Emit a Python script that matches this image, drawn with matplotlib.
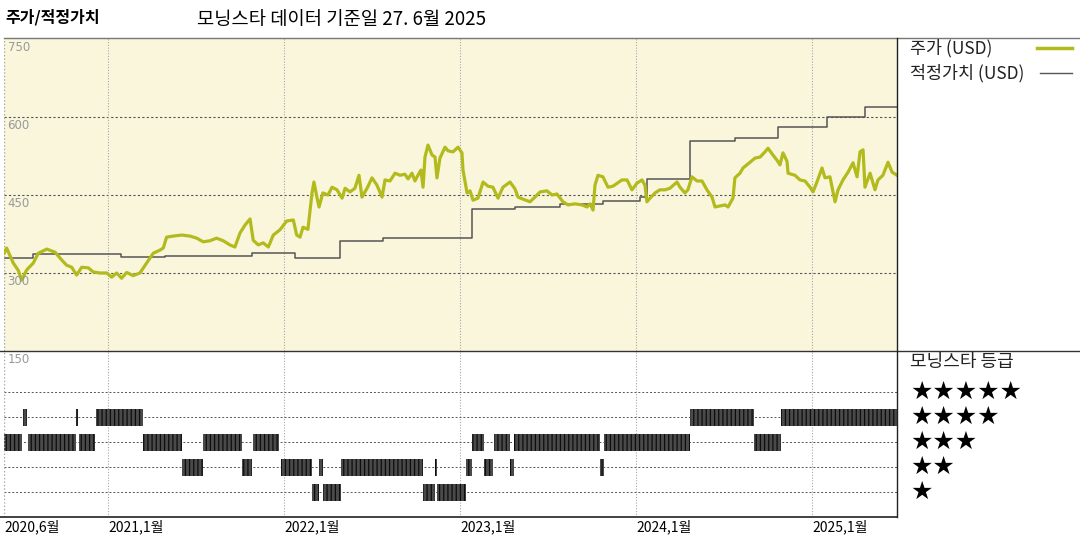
import matplotlib
matplotlib.use("Agg")
import matplotlib.pyplot as plt
from matplotlib.lines import Line2D

plt.rcParams["font.family"] = ["Noto Sans CJK KR", "DejaVu Sans"]
plt.rcParams["hatch.linewidth"] = 0.9

PRICE_COLOR = "#b3ba1c"
FAIR_COLOR = "#555555"
BG_COLOR = "#f9f6dc"
GRID_DARK = "#555555"
GRID_LIGHT = "#a8a8a8"

# dates as decimal years
price_t = [
    2020.41, 2020.424, 2020.462, 2020.490, 2020.510, 2020.538, 2020.575, 2020.604,
    2020.652, 2020.699, 2020.737, 2020.765, 2020.794, 2020.822, 2020.850, 2020.888,
    2020.916, 2020.955, 2020.993, 2021.021, 2021.049, 2021.077, 2021.106, 2021.143,
    2021.181, 2021.219, 2021.257, 2021.295, 2021.314, 2021.333, 2021.370, 2021.418,
    2021.466, 2021.504, 2021.541, 2021.579, 2021.617, 2021.655, 2021.693, 2021.721,
    2021.750, 2021.778, 2021.807, 2021.825, 2021.854, 2021.882, 2021.911, 2021.939,
    2021.977, 2022.015, 2022.053, 2022.072, 2022.091, 2022.108, 2022.136, 2022.159,
    2022.170, 2022.187, 2022.199, 2022.221, 2022.250, 2022.273, 2022.301, 2022.330,
    2022.347, 2022.375, 2022.403, 2022.426, 2022.443, 2022.472, 2022.500, 2022.528,
    2022.557, 2022.574, 2022.602, 2022.631, 2022.659, 2022.687, 2022.705, 2022.727,
    2022.744, 2022.761, 2022.778, 2022.790, 2022.801, 2022.818, 2022.841, 2022.858,
    2022.869, 2022.886, 2022.915, 2022.932, 2022.960, 2022.989, 2023.011, 2023.017,
    2023.040, 2023.057, 2023.074, 2023.102, 2023.131, 2023.159, 2023.187, 2023.216,
    2023.244, 2023.284, 2023.312, 2023.330, 2023.358, 2023.398, 2023.426, 2023.455,
    2023.494, 2023.523, 2023.551, 2023.585, 2023.614, 2023.653, 2023.693, 2023.722,
    2023.739, 2023.756, 2023.767, 2023.784, 2023.812, 2023.841, 2023.869, 2023.920,
    2023.949, 2023.977, 2024.006, 2024.034, 2024.051, 2024.062, 2024.080, 2024.108,
    2024.136, 2024.165, 2024.193, 2024.233, 2024.250, 2024.278, 2024.295, 2024.318,
    2024.347, 2024.375, 2024.403, 2024.432, 2024.449, 2024.477, 2024.506, 2024.523,
    2024.551, 2024.562, 2024.591, 2024.608, 2024.648, 2024.676, 2024.705, 2024.733,
    2024.750, 2024.778, 2024.801, 2024.818, 2024.835, 2024.858, 2024.864, 2024.903,
    2024.932, 2024.960, 2024.989, 2025.006, 2025.028, 2025.057, 2025.074, 2025.102,
    2025.131, 2025.148, 2025.176, 2025.205, 2025.233, 2025.256, 2025.273, 2025.290,
    2025.301, 2025.330, 2025.358, 2025.375, 2025.403, 2025.432, 2025.455, 2025.483,
]
price_v = [
    338, 348, 319, 305, 286, 306, 319, 338,
    346, 340, 325, 315, 311, 296, 311, 310,
    302, 300, 300, 292, 300, 290, 301, 295,
    300, 319, 338, 344, 348, 369, 371, 373,
    371, 367, 360, 362, 367, 362, 354, 350,
    377, 392, 404, 363, 354, 358, 350, 373,
    383, 400, 402, 373, 369, 388, 384, 454,
    475, 446, 427, 454, 450, 465, 460, 444,
    463, 456, 463, 488, 446, 463, 483, 469,
    446, 479, 477, 492, 488, 490, 481, 492,
    477, 488, 498, 465, 523, 546, 527, 523,
    483, 521, 542, 535, 533, 542, 531, 498,
    454, 458, 440, 444, 475, 467, 465, 444,
    465, 475, 462, 446, 442, 437, 446, 456,
    458, 450, 452, 437, 431, 433, 431, 427,
    433, 421, 469, 488, 485, 465, 467, 479,
    479, 460, 473, 479, 469, 437, 444, 454,
    460, 460, 463, 475, 465, 454, 460, 485,
    477, 477, 460, 446, 427, 429, 431, 427,
    444, 483, 492, 502, 513, 521, 523, 533,
    540, 527, 517, 508, 531, 515, 492, 488,
    479, 477, 465, 456, 475, 502, 483, 485,
    437, 460, 479, 494, 512, 485, 533, 537,
    465, 492, 460, 479, 488, 513, 494, 488,
]

fair_t = [
    2020.409, 2020.574, 2021.074, 2021.324, 2021.818, 2022.062, 2022.318,
    2022.562, 2023.068, 2023.312, 2023.568, 2023.812, 2024.023, 2024.062,
    2024.307, 2024.562, 2024.807, 2025.085, 2025.301, 2025.483,
]
fair_v = [
    329, 336, 331, 333, 338, 329, 361,
    367, 423, 427, 433, 438, 446, 481,
    554, 560, 581, 600, 619, 619,
]

rating_start = [
    2020.404, 2020.517, 2020.545, 2020.818, 2020.835, 2020.932, 2021.199,
    2021.420, 2021.540, 2021.761, 2021.824, 2021.983, 2022.159, 2022.199,
    2022.221, 2022.324, 2022.790, 2022.858, 2022.869, 2023.033, 2023.068,
    2023.136, 2023.193, 2023.284, 2023.307, 2023.795, 2023.818, 2024.307,
    2024.670, 2024.824,
]
rating_end = [
    2020.511, 2020.540, 2020.818, 2020.829, 2020.926, 2021.199, 2021.420,
    2021.540, 2021.761, 2021.818, 2021.972, 2022.159, 2022.199, 2022.221,
    2022.324, 2022.790, 2022.858, 2022.869, 2023.033, 2023.068, 2023.136,
    2023.187, 2023.284, 2023.307, 2023.795, 2023.818, 2024.307, 2024.670,
    2024.824, 2025.483,
]
rating_stars = [
    3, 4, 3, 4, 3, 4, 3,
    2, 3, 2, 3, 2, 1, 2,
    1, 2, 1, 2, 1, 2, 3,
    2, 3, 2, 3, 2, 3, 4,
    3, 4,
]

y_ticks = [150, 300, 450, 600, 750]
x_ticks = [2020.409, 2021.0, 2022.0, 2023.0, 2024.0, 2025.0]
x_labels = ["2020,6월", "2021,1월", "2022,1월", "2023,1월", "2024,1월", "2025,1월"]

W, H = 1080, 540
fig = plt.figure(figsize=(W / 100, H / 100), dpi=100)

left, right = 4, 897
top, mid, bottom = 38, 351, 517
ax2 = fig.add_axes([left / W, 1 - bottom / H, (right - left) / W, (bottom - mid) / H])
ax = fig.add_axes([left / W, 1 - mid / H, (right - left) / W, (mid - top) / H])

xlim = (2020.409, 2025.483)

# upper panel
ax.set_facecolor(BG_COLOR)
ax.set_xlim(xlim)
ax.set_ylim(150, 752)
for v in y_ticks[1:-1]:
    ax.axhline(v, color=GRID_DARK, ls=(0, (2, 2)), lw=0.8, zorder=1)
for t in x_ticks[1:]:
    ax.axvline(t, color=GRID_LIGHT, ls=(0, (1, 1.5)), lw=0.8, zorder=1)
    ax2.axvline(t, color=GRID_LIGHT, ls=(0, (1, 1.5)), lw=0.8, zorder=1)
ax.plot(price_t, price_v, color=PRICE_COLOR, lw=2.3, zorder=3)
ax.step(fair_t, fair_v, where="post", color=FAIR_COLOR, lw=1.1, zorder=2)

for v in y_ticks:
    ax.text(0.004, v - 4, str(v), transform=ax.get_yaxis_transform(),
            ha="left", va="top", fontsize=8.5, color="#999999",
            family="DejaVu Sans", clip_on=False, zorder=5)

# lower panel
ax2.set_xlim(xlim)
ax2.set_ylim(0, (bottom - mid) / 25)
for k in range(1, 6):
    ax2.axhline(k, color=GRID_DARK, ls=(0, (2, 2)), lw=0.7, zorder=1)
for s, e, k in zip(rating_start, rating_end, rating_stars):
    ax2.broken_barh([(s, e - s)], (k - 0.34, 0.68), facecolor="#4a4a4a",
                    edgecolor="#0d0d0d", hatch="||||", lw=0, zorder=2)

for a in (ax, ax2):
    a.set_xticks([])
    a.set_yticks([])
    for sp in a.spines.values():
        sp.set_visible(False)
    a.axvline(xlim[0], color=GRID_LIGHT, ls=(0, (1, 1.5)), lw=1.0)

ax2.set_xticks(x_ticks)
ax2.set_xticklabels(x_labels, fontsize=10, ha="left")
ax2.tick_params(axis="x", length=0, pad=2)

# frame lines
fig.add_artist(Line2D([left / W, 1], [1 - top / H] * 2, color="#777777", lw=1.0))
fig.add_artist(Line2D([0, 1], [1 - mid / H] * 2, color="#333333", lw=1.0))
fig.add_artist(Line2D([0, right / W], [1 - bottom / H] * 2, color="#222222", lw=1.2))
fig.add_artist(Line2D([right / W] * 2, [1 - top / H, 1 - bottom / H], color="#222222", lw=1.0))

# titles
fig.text(5 / W, 1 - 17 / H, "주가/적정가치", fontsize=11.5, fontweight="bold", va="center")
fig.text(197 / W, 1 - 20 / H, "모닝스타 데이터 기준일 27. 6월 2025", fontsize=13.5, va="center")

# legend
fig.text(910 / W, 1 - 48 / H, "주가 (USD)", fontsize=12.5, va="center", color="#222222")
fig.add_artist(Line2D([1037 / W, 1072 / W], [1 - 48 / H] * 2, color=PRICE_COLOR, lw=2.5))
fig.text(910 / W, 1 - 73 / H, "적정가치 (USD)", fontsize=12.5, va="center", color="#222222")
fig.add_artist(Line2D([1040 / W, 1072 / W], [1 - 73 / H] * 2, color=FAIR_COLOR, lw=1.0))

fig.text(910 / W, 1 - 362 / H, "모닝스타 등급", fontsize=13, va="center", color="#222222")
for k in range(5, 0, -1):
    ax2.text((910 - left) / (right - left), k, "★" * k, transform=ax2.get_yaxis_transform(),
             fontsize=18, va="center", ha="left", family="DejaVu Sans", clip_on=False)

fig.savefig("out.png", dpi=100)
